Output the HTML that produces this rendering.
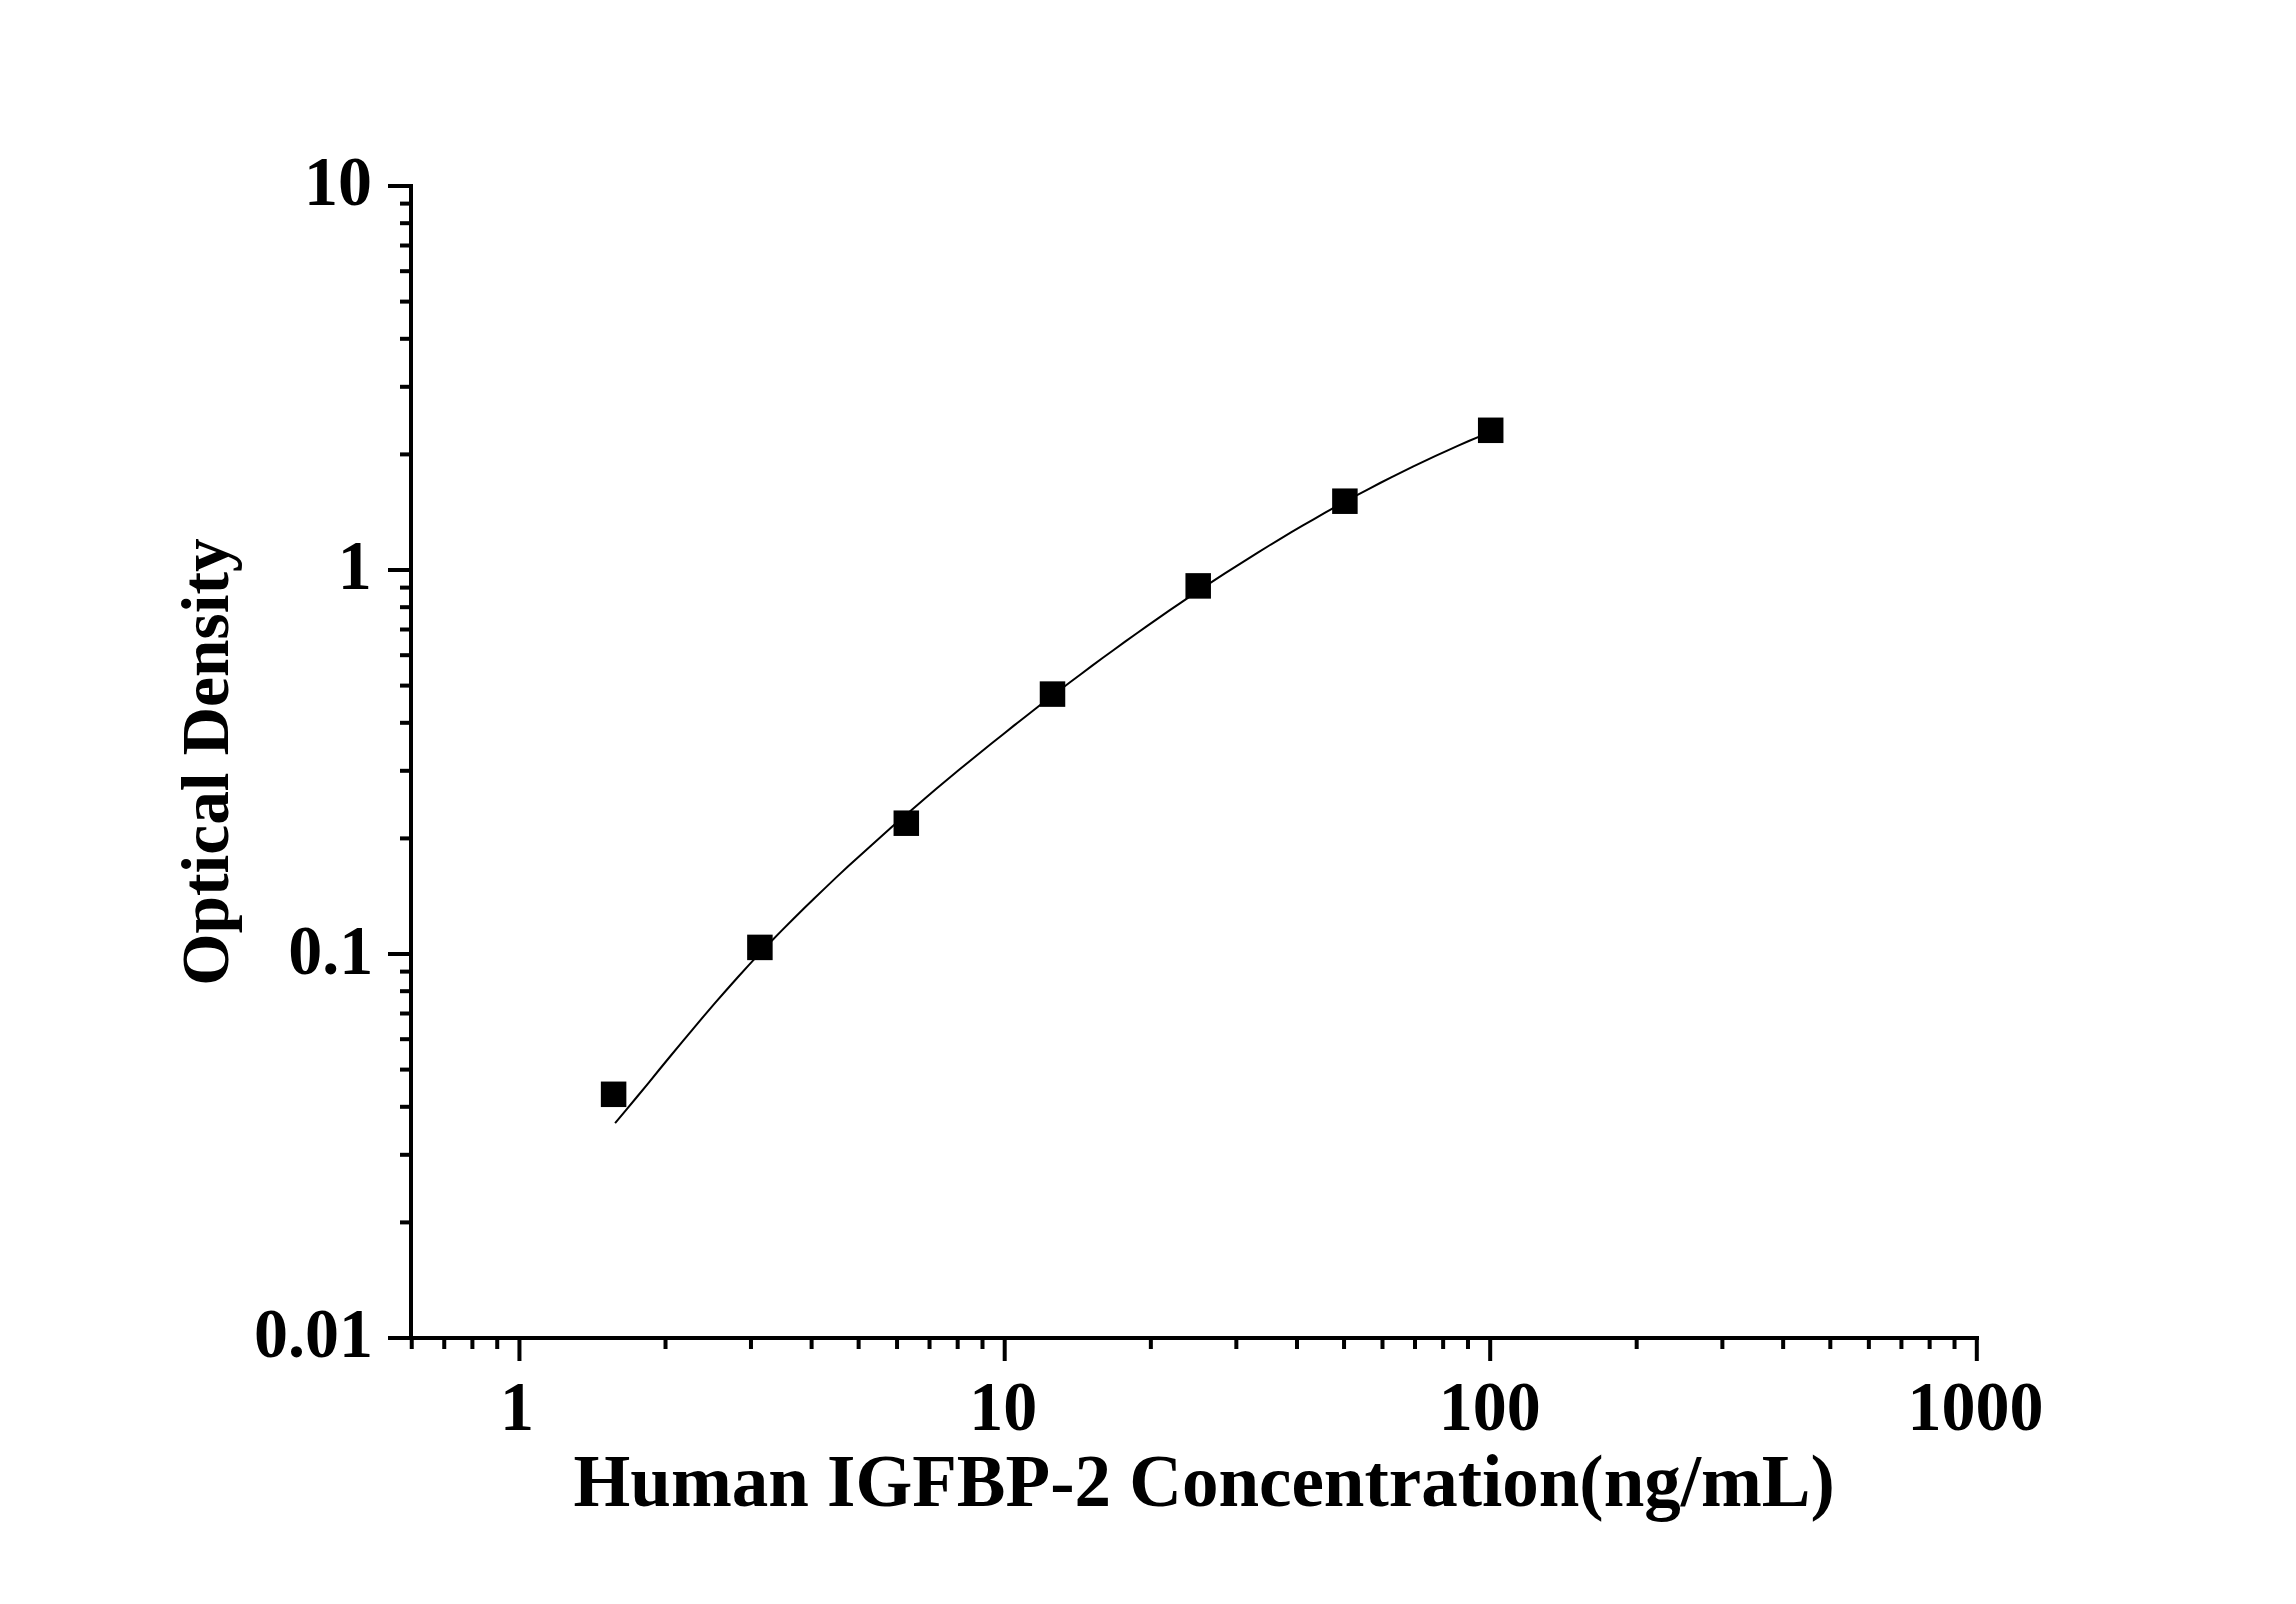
<!DOCTYPE html>
<html><head><meta charset="utf-8"><style>
html,body{margin:0;padding:0;background:#fff;}
body{width:2296px;height:1604px;overflow:hidden;}
svg{display:block;}
text{font-family:"Liberation Serif",serif;font-weight:bold;fill:#000;}
</style></head><body>
<svg width="2296" height="1604" viewBox="0 0 2296 1604">
<rect width="2296" height="1604" fill="#fff"/>
<rect x="409" y="184" width="4" height="1156" fill="#000"/>
<rect x="409" y="1336" width="1570" height="4" fill="#000"/>
<rect x="388" y="1336.0" width="23" height="4" fill="#000"/>
<rect x="400" y="1220.4" width="11" height="4" fill="#000"/>
<rect x="400" y="1152.8" width="11" height="4" fill="#000"/>
<rect x="400" y="1104.8" width="11" height="4" fill="#000"/>
<rect x="400" y="1067.6" width="11" height="4" fill="#000"/>
<rect x="400" y="1037.2" width="11" height="4" fill="#000"/>
<rect x="400" y="1011.5" width="11" height="4" fill="#000"/>
<rect x="400" y="989.2" width="11" height="4" fill="#000"/>
<rect x="400" y="969.6" width="11" height="4" fill="#000"/>
<rect x="388" y="952.0" width="23" height="4" fill="#000"/>
<rect x="400" y="836.4" width="11" height="4" fill="#000"/>
<rect x="400" y="768.8" width="11" height="4" fill="#000"/>
<rect x="400" y="720.8" width="11" height="4" fill="#000"/>
<rect x="400" y="683.6" width="11" height="4" fill="#000"/>
<rect x="400" y="653.2" width="11" height="4" fill="#000"/>
<rect x="400" y="627.5" width="11" height="4" fill="#000"/>
<rect x="400" y="605.2" width="11" height="4" fill="#000"/>
<rect x="400" y="585.6" width="11" height="4" fill="#000"/>
<rect x="388" y="568.0" width="23" height="4" fill="#000"/>
<rect x="400" y="452.4" width="11" height="4" fill="#000"/>
<rect x="400" y="384.8" width="11" height="4" fill="#000"/>
<rect x="400" y="336.8" width="11" height="4" fill="#000"/>
<rect x="400" y="299.6" width="11" height="4" fill="#000"/>
<rect x="400" y="269.2" width="11" height="4" fill="#000"/>
<rect x="400" y="243.5" width="11" height="4" fill="#000"/>
<rect x="400" y="221.2" width="11" height="4" fill="#000"/>
<rect x="400" y="201.6" width="11" height="4" fill="#000"/>
<rect x="388" y="184" width="23" height="4" fill="#000"/>
<rect x="409.74" y="1338" width="4" height="11" fill="#000"/>
<rect x="442.25" y="1338" width="4" height="11" fill="#000"/>
<rect x="470.40" y="1338" width="4" height="11" fill="#000"/>
<rect x="495.23" y="1338" width="4" height="11" fill="#000"/>
<rect x="517.45" y="1338" width="4" height="23" fill="#000"/>
<rect x="663.52" y="1338" width="4" height="11" fill="#000"/>
<rect x="748.97" y="1338" width="4" height="11" fill="#000"/>
<rect x="809.60" y="1338" width="4" height="11" fill="#000"/>
<rect x="856.63" y="1338" width="4" height="11" fill="#000"/>
<rect x="895.05" y="1338" width="4" height="11" fill="#000"/>
<rect x="927.53" y="1338" width="4" height="11" fill="#000"/>
<rect x="955.67" y="1338" width="4" height="11" fill="#000"/>
<rect x="980.50" y="1338" width="4" height="11" fill="#000"/>
<rect x="1002.70" y="1338" width="4" height="23" fill="#000"/>
<rect x="1148.85" y="1338" width="4" height="11" fill="#000"/>
<rect x="1234.34" y="1338" width="4" height="11" fill="#000"/>
<rect x="1295.00" y="1338" width="4" height="11" fill="#000"/>
<rect x="1342.05" y="1338" width="4" height="11" fill="#000"/>
<rect x="1380.49" y="1338" width="4" height="11" fill="#000"/>
<rect x="1413.00" y="1338" width="4" height="11" fill="#000"/>
<rect x="1441.15" y="1338" width="4" height="11" fill="#000"/>
<rect x="1465.98" y="1338" width="4" height="11" fill="#000"/>
<rect x="1488.20" y="1338" width="4" height="23" fill="#000"/>
<rect x="1634.68" y="1338" width="4" height="11" fill="#000"/>
<rect x="1720.37" y="1338" width="4" height="11" fill="#000"/>
<rect x="1781.16" y="1338" width="4" height="11" fill="#000"/>
<rect x="1828.32" y="1338" width="4" height="11" fill="#000"/>
<rect x="1866.85" y="1338" width="4" height="11" fill="#000"/>
<rect x="1899.42" y="1338" width="4" height="11" fill="#000"/>
<rect x="1927.64" y="1338" width="4" height="11" fill="#000"/>
<rect x="1952.53" y="1338" width="4" height="11" fill="#000"/>
<rect x="1974.80" y="1338" width="4" height="23" fill="#000"/>
<path d="M615.1,1123.2 L626.2,1109.9 L637.3,1096.5 L648.4,1083.1 L659.4,1069.5 L670.5,1056.0 L681.6,1042.6 L692.7,1029.3 L703.8,1016.1 L714.9,1003.2 L726.0,990.5 L737.1,978.0 L748.1,965.8 L759.2,953.9 L770.3,942.2 L781.4,930.9 L792.5,919.7 L803.6,908.8 L814.7,898.0 L825.8,887.4 L836.8,876.9 L847.9,866.6 L859.0,856.4 L870.1,846.4 L881.2,836.5 L892.3,826.6 L903.4,817.0 L914.5,807.4 L925.5,797.9 L936.6,788.5 L947.7,779.3 L958.8,770.1 L969.9,761.0 L981.0,752.0 L992.1,743.0 L1003.2,734.2 L1014.2,725.4 L1025.3,716.7 L1036.4,708.0 L1047.5,699.4 L1058.6,691.0 L1069.7,682.5 L1080.8,674.2 L1091.9,665.9 L1102.9,657.8 L1114.0,649.7 L1125.1,641.6 L1136.2,633.7 L1147.3,625.9 L1158.4,618.1 L1169.5,610.4 L1180.6,602.8 L1191.6,595.4 L1202.7,588.0 L1213.8,580.6 L1224.9,573.4 L1236.0,566.3 L1247.1,559.3 L1258.2,552.4 L1269.3,545.5 L1280.3,538.8 L1291.4,532.2 L1302.5,525.7 L1313.6,519.3 L1324.7,512.9 L1335.8,506.7 L1346.9,500.6 L1358.0,494.7 L1369.0,488.8 L1380.1,483.0 L1391.2,477.4 L1402.3,471.8 L1413.4,466.4 L1424.5,461.1 L1435.6,455.9 L1446.7,450.8 L1457.7,445.9 L1468.8,441.0 L1479.9,436.3 L1491.0,431.7" fill="none" stroke="#000" stroke-width="2"/>
<rect x="600.85" y="1081.55" width="25.5" height="25.5" fill="#000"/>
<rect x="747.15" y="934.65" width="25.5" height="25.5" fill="#000"/>
<rect x="893.55" y="810.45" width="25.5" height="25.5" fill="#000"/>
<rect x="1039.75" y="681.35" width="25.5" height="25.5" fill="#000"/>
<rect x="1185.45" y="573.15" width="25.5" height="25.5" fill="#000"/>
<rect x="1332.15" y="488.45" width="25.5" height="25.5" fill="#000"/>
<rect x="1477.95" y="417.55" width="25.5" height="25.5" fill="#000"/>
<text transform="translate(303.95,205.0) scale(1,1.035)" font-size="68">10</text>
<text transform="translate(337.85,589.0) scale(1,1.035)" font-size="68">1</text>
<text transform="translate(288.3,974.0) scale(1,1.035)" font-size="68">0.1</text>
<text transform="translate(254.1,1357.0) scale(1,1.035)" font-size="68">0.01</text>
<text transform="translate(500.05,1429.7) scale(1,1.035)" font-size="68">1</text>
<text transform="translate(969.35,1430) scale(1,1.035)" font-size="68">10</text>
<text transform="translate(1438.75,1430) scale(1,1.035)" font-size="68">100</text>
<text transform="translate(1907.45,1429.9) scale(1,1.035)" font-size="68">1000</text>
<text x="573.55" y="1505.6" font-size="73">Human IGFBP-2 Concentration(ng/mL)</text>
<text transform="translate(227.7,985.8) rotate(-90)" font-size="67.4">Optical Density</text>
</svg>
</body></html>
